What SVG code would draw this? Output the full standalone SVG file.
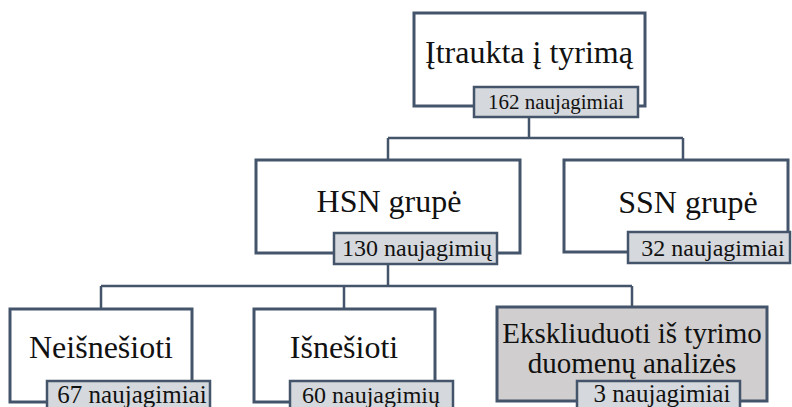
<svg xmlns="http://www.w3.org/2000/svg" width="792" height="407" viewBox="0 0 792 407">
<style>
.box{fill:#fff;stroke:#44546a;stroke-width:3}
.excl{fill:#d0cece;stroke:#44546a;stroke-width:3}
.lbl{fill:#d5d8dc;stroke:#44546a;stroke-width:2.5}
.t{font-family:"Liberation Serif","Times New Roman",serif;font-size:32px;fill:#111;text-anchor:middle}
.te{font-family:"Liberation Serif","Times New Roman",serif;font-size:29px;fill:#111;text-anchor:middle}
.tl{font-family:"Liberation Serif","Times New Roman",serif;fill:#111;text-anchor:middle}
.c{fill:none;stroke:#44546a;stroke-width:2.5}
</style>
<rect width="792" height="407" fill="#fff"/>
<g id="connectors">
<path class="c" d="M529 117 V138 M388 138 H683 M388 138 V160 M683 138 V160"/>
<path class="c" d="M388 264 V286 M101 286 H632 M101 286 V309 M344 286 V309 M632 286 V307"/>
</g>
<g id="top">
<rect class="box" x="414" y="13" width="231" height="93"/>
<text class="t" x="529" y="63">Įtraukta į tyrimą</text>
<rect class="lbl" x="474" y="87" width="164" height="30"/>
<text class="tl" x="556" y="109" font-size="21">162 naujagimiai</text>
</g>
<g id="hsn">
<rect class="box" x="256" y="160" width="264" height="93"/>
<text class="t" x="389" y="212">HSN grupė</text>
<rect class="lbl" x="334" y="233" width="163" height="31"/>
<text class="tl" x="417" y="256" font-size="24">130 naujagimių</text>
</g>
<g id="ssn">
<rect class="box" x="564" y="160" width="224" height="92"/>
<text class="t" x="688" y="213">SSN grupė</text>
<rect class="lbl" x="628" y="232" width="162" height="31"/>
<text class="tl" x="713" y="256" font-size="24">32 naujagimiai</text>
</g>
<g id="neisnesioti">
<rect class="box" x="10" y="309" width="182" height="93"/>
<text class="t" x="101" y="358">Neišnešioti</text>
<rect class="lbl" x="47" y="381" width="163" height="32"/>
<text class="tl" x="132" y="403" font-size="25">67 naujagimiai</text>
</g>
<g id="isnesioti">
<rect class="box" x="254" y="309" width="181" height="93"/>
<text class="t" x="344" y="358">Išnešioti</text>
<rect class="lbl" x="290" y="381" width="163" height="32"/>
<text class="tl" x="371" y="403" font-size="24">60 naujagimių</text>
</g>
<g id="ekskliuduoti">
<rect class="excl" x="497" y="307" width="270" height="94"/>
<text class="te" x="632" y="343">Ekskliuduoti iš tyrimo</text>
<text class="te" x="632" y="373">duomenų analizės</text>
<rect class="lbl" x="577" y="381" width="163" height="32"/>
<text class="tl" x="662" y="402" font-size="25">3 naujagimiai</text>
</g>
</svg>
